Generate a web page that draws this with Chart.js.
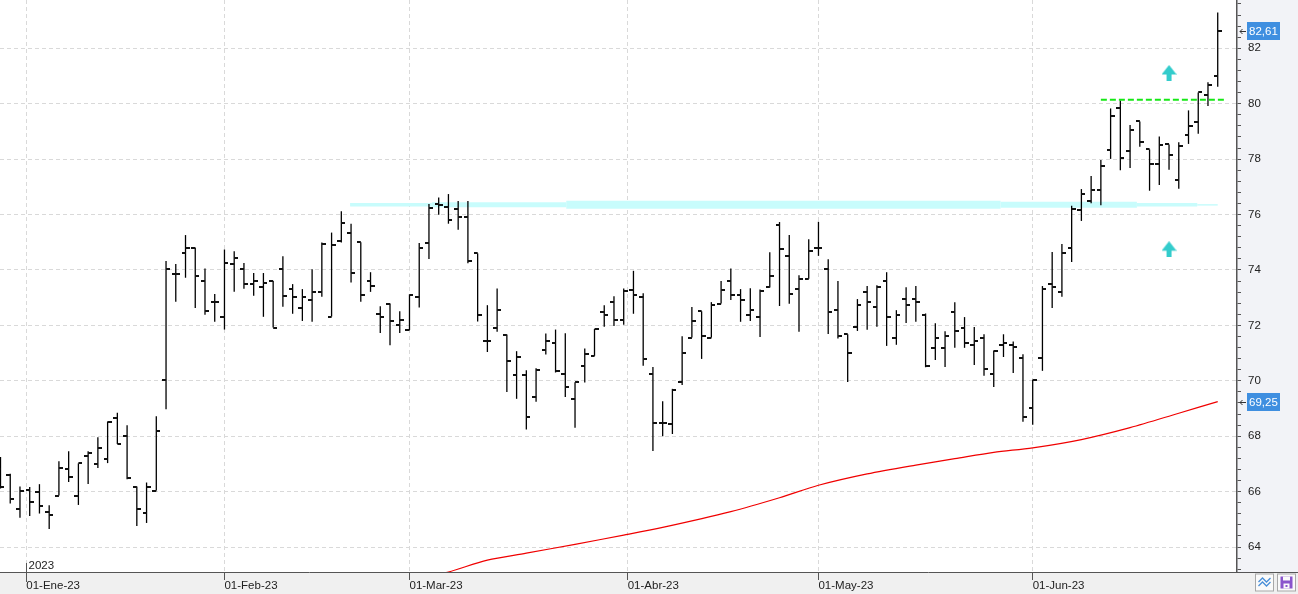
<!DOCTYPE html>
<html>
<head>
<meta charset="utf-8">
<script src="https://cdn.jsdelivr.net/npm/chart.js@4.4.0/dist/chart.umd.min.js"></script>
<style>
html, body { margin: 0; padding: 0; background: #fff; }
#wrap { position: relative; width: 1298px; height: 594px; }
</style>
</head>
<body>
<div id="wrap"><canvas id="mainChart"></canvas></div>
<script>
// daily bars, index 0 = last sessions of Dec-22, index 125 = last session
const opens = [
  66.80, 66.59, 65.39, 66.05, 66.00, 65.27, 65.86, 66.83, 65.86, 67.30,
  66.99, 67.19, 68.67, 68.02, 66.17, 65.24, 66.04, 70.02, 73.87, 74.60,
  74.80, 73.59, 72.86, 72.32, 74.21, 74.02, 73.49, 73.40, 73.59, 74.02,
  73.30, 72.61, 72.90, 73.20, 72.32, 75.05, 75.35, 75.00, 73.59, 72.42,
  72.79, 72.01, 71.83, 73.04, 74.99, 76.37, 76.26, 76.19, 75.90, 74.60,
  71.45, 71.89, 71.67, 70.20, 70.20, 69.43, 71.13, 71.36, 70.24, 69.36,
  70.52, 70.91, 72.47, 72.83, 72.18, 73.26, 73.01, 70.26, 68.49, 68.43,
  69.94, 71.56, 72.51, 71.56, 72.79, 73.62, 73.08, 72.39, 72.32, 73.37,
  75.64, 74.50, 73.30, 73.68, 74.80, 74.05, 72.57, 71.68, 71.94, 73.22,
  72.65, 73.60, 71.54, 72.94, 72.94, 72.36, 71.20, 71.20, 72.50, 71.89,
  71.31, 71.56, 70.26, 71.31, 71.31, 70.84, 69.03, 70.84, 73.48, 73.22,
  74.81, 76.15, 76.50, 76.87, 78.32, 79.83, 78.29, 79.36, 78.35, 77.81,
  78.53, 77.24, 78.86, 79.33, 80.31, 80.99
];
const highs = [
  67.25, 66.65, 66.19, 66.17, 66.27, 65.51, 67.10, 67.46, 67.02, 67.46,
  67.96, 68.53, 68.85, 68.40, 66.19, 66.33, 68.72, 74.32, 74.22, 75.26,
  74.80, 74.05, 73.13, 74.74, 74.68, 74.25, 73.89, 73.89, 73.60, 74.50,
  73.49, 73.31, 74.03, 74.99, 75.35, 76.12, 75.67, 75.00, 73.92, 72.69,
  72.79, 72.51, 73.12, 74.97, 76.38, 76.62, 76.74, 76.49, 76.49, 74.60,
  72.73, 73.33, 71.67, 71.07, 70.38, 70.45, 71.71, 71.85, 71.72, 69.95,
  71.17, 71.87, 72.73, 73.05, 73.33, 73.97, 73.16, 70.50, 69.26, 69.71,
  71.61, 72.66, 72.51, 72.84, 73.60, 74.05, 73.31, 73.34, 73.30, 74.64,
  75.73, 75.26, 73.81, 75.11, 75.74, 74.39, 73.60, 71.68, 72.95, 73.42,
  73.45, 73.92, 72.55, 73.38, 73.42, 72.43, 72.08, 71.79, 72.84, 72.30,
  71.94, 71.68, 71.09, 71.68, 71.42, 70.96, 70.04, 73.42, 74.65, 74.94,
  76.32, 76.92, 77.39, 77.97, 79.83, 80.12, 79.23, 79.36, 78.35, 78.82,
  78.53, 78.61, 79.76, 80.41, 80.78, 83.29
];
const lows = [
  66.11, 65.57, 65.06, 65.12, 65.21, 64.65, 65.86, 66.35, 65.52, 66.28,
  66.85, 67.03, 67.72, 66.45, 64.76, 64.87, 66.04, 68.97, 72.85, 73.72,
  72.63, 72.38, 72.13, 71.85, 73.21, 73.32, 73.07, 72.31, 71.92, 72.67,
  72.42, 72.16, 72.13, 73.03, 72.32, 74.99, 73.55, 72.85, 73.21, 71.73,
  71.28, 71.73, 71.83, 72.65, 74.40, 75.99, 75.67, 75.45, 74.24, 72.14,
  71.04, 71.77, 69.60, 69.35, 68.24, 69.24, 70.95, 70.30, 69.42, 68.31,
  69.94, 70.90, 71.95, 71.98, 72.02, 72.42, 70.54, 67.47, 68.00, 68.08,
  69.85, 71.56, 70.79, 71.56, 72.79, 72.92, 72.13, 72.16, 71.58, 73.37,
  72.70, 72.78, 71.77, 73.68, 74.51, 71.69, 71.53, 69.96, 71.80, 71.84,
  71.95, 71.26, 71.30, 72.09, 72.13, 70.49, 70.75, 70.50, 71.19, 71.19,
  70.57, 70.18, 69.78, 70.86, 70.28, 68.52, 68.41, 70.36, 72.63, 73.03,
  74.29, 75.77, 76.41, 76.34, 78.01, 77.60, 77.68, 78.45, 76.86, 77.07,
  77.62, 76.93, 78.55, 78.92, 79.92, 80.61
];
const closes = [
  66.17, 65.75, 66.01, 65.64, 65.50, 65.17, 66.87, 66.54, 67.02, 67.40,
  67.58, 68.50, 67.73, 66.49, 65.36, 66.15, 68.20, 74.02, 73.87, 74.81,
  73.77, 72.51, 72.86, 74.24, 74.42, 73.49, 73.62, 73.52, 71.92, 73.05,
  73.02, 73.01, 73.20, 74.92, 74.90, 75.69, 73.89, 73.10, 73.44, 72.31,
  72.15, 72.21, 73.09, 74.78, 76.22, 76.34, 75.79, 75.93, 74.31, 72.36,
  71.42, 72.54, 70.70, 70.85, 68.71, 70.39, 71.44, 70.34, 69.79, 69.94,
  70.96, 71.86, 72.37, 72.18, 73.23, 73.08, 70.80, 68.49, 68.49, 69.68,
  71.02, 72.15, 71.60, 72.75, 73.26, 73.08, 72.90, 72.57, 73.23, 73.80,
  74.76, 73.12, 73.69, 74.70, 74.78, 72.47, 71.60, 71.02, 72.75, 72.84,
  73.37, 72.32, 72.39, 72.75, 72.84, 70.52, 71.54, 71.60, 71.78, 71.38,
  71.42, 70.44, 71.07, 71.35, 71.21, 68.71, 70.02, 73.30, 73.37, 74.61,
  76.19, 76.73, 76.88, 77.77, 79.54, 78.03, 79.04, 78.62, 77.81, 78.52,
  78.14, 78.46, 79.18, 80.41, 80.67, 82.61
];

// month marks (bar index where the month starts)
const monthPos = [2.65, 23, 42, 64.41, 84, 106];
const monthLabels = ['01-Ene-23', '01-Feb-23', '01-Mar-23', '01-Abr-23', '01-May-23', '01-Jun-23'];
const yearLabel = '2023';

// moving average (red line)
const maIndex = [44, 46, 50, 54, 59, 64, 68, 75, 80, 84, 89, 94, 98, 102, 106, 111, 116, 121, 125];
const maValues = [62.95, 63.10, 63.53, 63.78, 64.10, 64.43, 64.71, 65.28, 65.78, 66.23, 66.64, 66.96, 67.19, 67.42, 67.58, 67.88, 68.31, 68.83, 69.25];

// drawn studies
const bandLevel = 76.35;
const bandBreaks = [35.9, 44.3, 58.1, 102.7, 116.7, 122.9, 125];
const resistLevel = 80.14;
const resistRange = [113, 125.9];
const arrowIndex = [120, 120];
const arrowValues = [81.11, 74.75];

const FONT = 'Liberation Sans';
const isMajor = v => Math.abs(v / 2 - Math.round(v / 2)) < 1e-6;
const fmt = v => v.toFixed(2).replace('.', ',');

function tickImage(side) {
  const c = document.createElement('canvas');
  c.width = 8; c.height = 2;
  const g = c.getContext('2d');
  g.fillStyle = '#111';
  g.fillRect(side === 'left' ? 0 : 4, 0, 4, 2);
  return c;
}

function arrowImage() {
  const c = document.createElement('canvas');
  c.width = 15; c.height = 16;
  const g = c.getContext('2d');
  g.fillStyle = '#33cccc';
  g.beginPath();
  g.moveTo(7.5, 0); g.lineTo(15, 9.5); g.lineTo(0, 9.5);
  g.closePath(); g.fill();
  g.fillRect(5, 9, 5, 7);
  return c;
}

const idx = closes.map((_, i) => i);

const datasets = [
  {
    type: 'line', label: 'resistencia',
    data: resistRange.map(x => ({ x, y: resistLevel })),
    borderColor: '#16e816', borderWidth: 2, borderDash: [6, 3],
    pointRadius: 0, order: 1
  },
  {
    type: 'scatter', label: 'flechas',
    data: arrowIndex.map((x, i) => ({ x, y: arrowValues[i] })),
    pointStyle: arrowImage(), pointRadius: 5, order: 2
  },
  {
    type: 'scatter', label: 'cierre',
    data: idx.map(i => ({ x: i, y: closes[i] })),
    pointStyle: tickImage('right'), pointRadius: 3, order: 3
  },
  {
    type: 'scatter', label: 'apertura',
    data: idx.map(i => ({ x: i, y: opens[i] })),
    pointStyle: tickImage('left'), pointRadius: 3, order: 4
  },
  {
    type: 'bar', label: 'rango',
    data: idx.map(i => ({ x: i, y: [lows[i], highs[i]] })),
    backgroundColor: '#000', borderWidth: 0, barThickness: 1.3, inflateAmount: 0, order: 5
  },
  {
    type: 'line', label: 'media',
    data: maIndex.map((x, i) => ({ x, y: maValues[i] })),
    borderColor: '#f00000', borderWidth: 1.2, pointRadius: 0, tension: 0.3, order: 6
  }
];

// light cyan highlighter band, thicker in the middle
const bandWidths = [3.5, 5, 8, 6, 3.5, 1.5];
for (let k = 0; k < bandBreaks.length - 1; k++) {
  datasets.push({
    type: 'line', label: 'banda' + k,
    data: [{ x: bandBreaks[k], y: bandLevel }, { x: bandBreaks[k + 1], y: bandLevel }],
    borderColor: '#c8fcfc', borderWidth: bandWidths[k], borderCapStyle: 'butt',
    pointRadius: 0, order: 10 + k
  });
}

const backdrop = {
  id: 'backdrop',
  beforeDraw(chart) {
    const { ctx, chartArea: a, width, height } = chart;
    ctx.save();
    ctx.fillStyle = '#ffffff';
    ctx.fillRect(0, 0, width, height);
    ctx.fillStyle = '#f2f3f7';
    ctx.fillRect(a.right, 0, width - a.right, a.bottom);
    ctx.fillStyle = '#f0f0f0';
    ctx.fillRect(0, a.bottom, width, height - a.bottom);
    ctx.restore();
  }
};

function priceTag(ctx, left, y, text) {
  const yy = Math.round(y);
  ctx.fillStyle = '#3f8fe0';
  ctx.fillRect(left + 10, yy - 9, 33, 18);
  ctx.fillStyle = '#ffffff';
  ctx.textAlign = 'left';
  ctx.textBaseline = 'middle';
  ctx.fillText(text, left + 12, yy + 0.5);
  ctx.strokeStyle = '#333';
  ctx.lineWidth = 1;
  ctx.beginPath();
  ctx.moveTo(left + 3, yy + 0.5); ctx.lineTo(left + 9, yy + 0.5);
  ctx.moveTo(left + 5.5, yy - 2); ctx.lineTo(left + 3, yy + 0.5); ctx.lineTo(left + 5.5, yy + 3);
  ctx.stroke();
}

const overlay = {
  id: 'overlay',
  afterDraw(chart) {
    const { ctx, chartArea: a, width, height, scales } = chart;
    ctx.save();
    // bottom axis line across the full width
    ctx.strokeStyle = '#555';
    ctx.lineWidth = 1;
    ctx.beginPath();
    ctx.moveTo(a.right, a.bottom + 0.5); ctx.lineTo(width, a.bottom + 0.5);
    ctx.stroke();

    // year marker
    const xy = Math.round(scales.x.getPixelForValue(monthPos[0])) + 0.5;
    ctx.beginPath();
    ctx.moveTo(xy, a.bottom - 9); ctx.lineTo(xy, a.bottom + 10);
    ctx.stroke();
    ctx.font = '11.5px "' + FONT + '"';
    ctx.fillStyle = '#222';
    ctx.textAlign = 'left';
    ctx.textBaseline = 'alphabetic';
    ctx.fillText(yearLabel, xy + 2, a.bottom - 3.5);

    // last price and moving average tags
    priceTag(ctx, a.right, scales.y.getPixelForValue(closes[closes.length - 1]), fmt(closes[closes.length - 1]));
    priceTag(ctx, a.right, scales.y.getPixelForValue(maValues[maValues.length - 1]), fmt(maValues[maValues.length - 1]));

    // two small buttons bottom right
    const by = a.bottom + 2;
    [1255.5, 1277.5].forEach((bx, k) => {
      ctx.fillStyle = '#fafafa';
      ctx.fillRect(bx, by, 18, 17);
      ctx.strokeStyle = '#a8a8a8';
      ctx.strokeRect(bx, by, 18, 17);
      if (k === 0) {
        ctx.strokeStyle = '#4a8fd8';
        ctx.lineWidth = 1.3;
        [6, 10].forEach(dy => {
          ctx.beginPath();
          ctx.moveTo(bx + 3, by + dy + 2); ctx.lineTo(bx + 7, by + dy - 2);
          ctx.lineTo(bx + 11, by + dy + 2); ctx.lineTo(bx + 15, by + dy - 2);
          ctx.stroke();
        });
        ctx.lineWidth = 1;
      } else {
        ctx.fillStyle = '#8a55cc';
        ctx.fillRect(bx + 3, by + 2.5, 12, 12);
        ctx.fillStyle = '#fafafa';
        ctx.fillRect(bx + 5.5, by + 2.5, 7, 4);
        ctx.fillRect(bx + 6, by + 9.5, 6, 5);
        ctx.fillStyle = '#8a55cc';
        ctx.fillRect(bx + 8, by + 11, 2, 2);
      }
    });
    ctx.restore();
  }
};

const ctx = document.getElementById('mainChart').getContext('2d');
const mainChart = new Chart(ctx, {
  type: 'line',
  data: { datasets: datasets },
  options: {
    responsive: true,
    maintainAspectRatio: false,
    animation: false,
    events: [],
    layout: { padding: 0, autoPadding: false },
    plugins: {
      legend: { display: false },
      tooltip: { enabled: false }
    },
    scales: {
      x: {
        type: 'linear',
        position: 'bottom',
        min: -0.051,
        max: 126.98,
        offset: false,
        afterBuildTicks: s => { s.ticks = monthPos.map(v => ({ value: v })); },
        afterFit: s => { s.height = 22; s.paddingLeft = 0; s.paddingRight = 0; },
        ticks: {
          autoSkip: false,
          maxRotation: 0,
          minRotation: 0,
          align: 'start',
          padding: -1,
          color: '#222',
          font: { family: FONT, size: 11.5 },
          callback: (v, i) => monthLabels[i]
        },
        grid: {
          color: '#d9d9d9',
          tickColor: '#555',
          tickLength: 8,
          offset: false
        },
        border: { color: '#555', width: 1, dash: [4, 3] }
      },
      y: {
        type: 'linear',
        position: 'right',
        min: 63.1,
        max: 83.744,
        beginAtZero: false,
        afterBuildTicks: s => {
          const t = [];
          for (let k = 0; k <= 51; k++) t.push({ value: Math.round((63.2 + 0.4 * k) * 10) / 10 });
          s.ticks = t;
        },
        afterFit: s => { s.width = 61; s.paddingTop = 0; s.paddingBottom = 0; },
        ticks: {
          autoSkip: false,
          padding: 7,
          color: '#222',
          font: { family: FONT, size: 11.5 },
          callback: v => isMajor(v) ? String(Math.round(v)) : ''
        },
        grid: {
          color: c => (c.tick && isMajor(c.tick.value)) ? '#d9d9d9' : 'rgba(0,0,0,0)',
          tickColor: '#555',
          tickLength: 4
        },
        border: { color: '#555', width: 1.5, dash: [4, 3] }
      }
    }
  },
  plugins: [backdrop, overlay]
});
</script>
</body>
</html>
